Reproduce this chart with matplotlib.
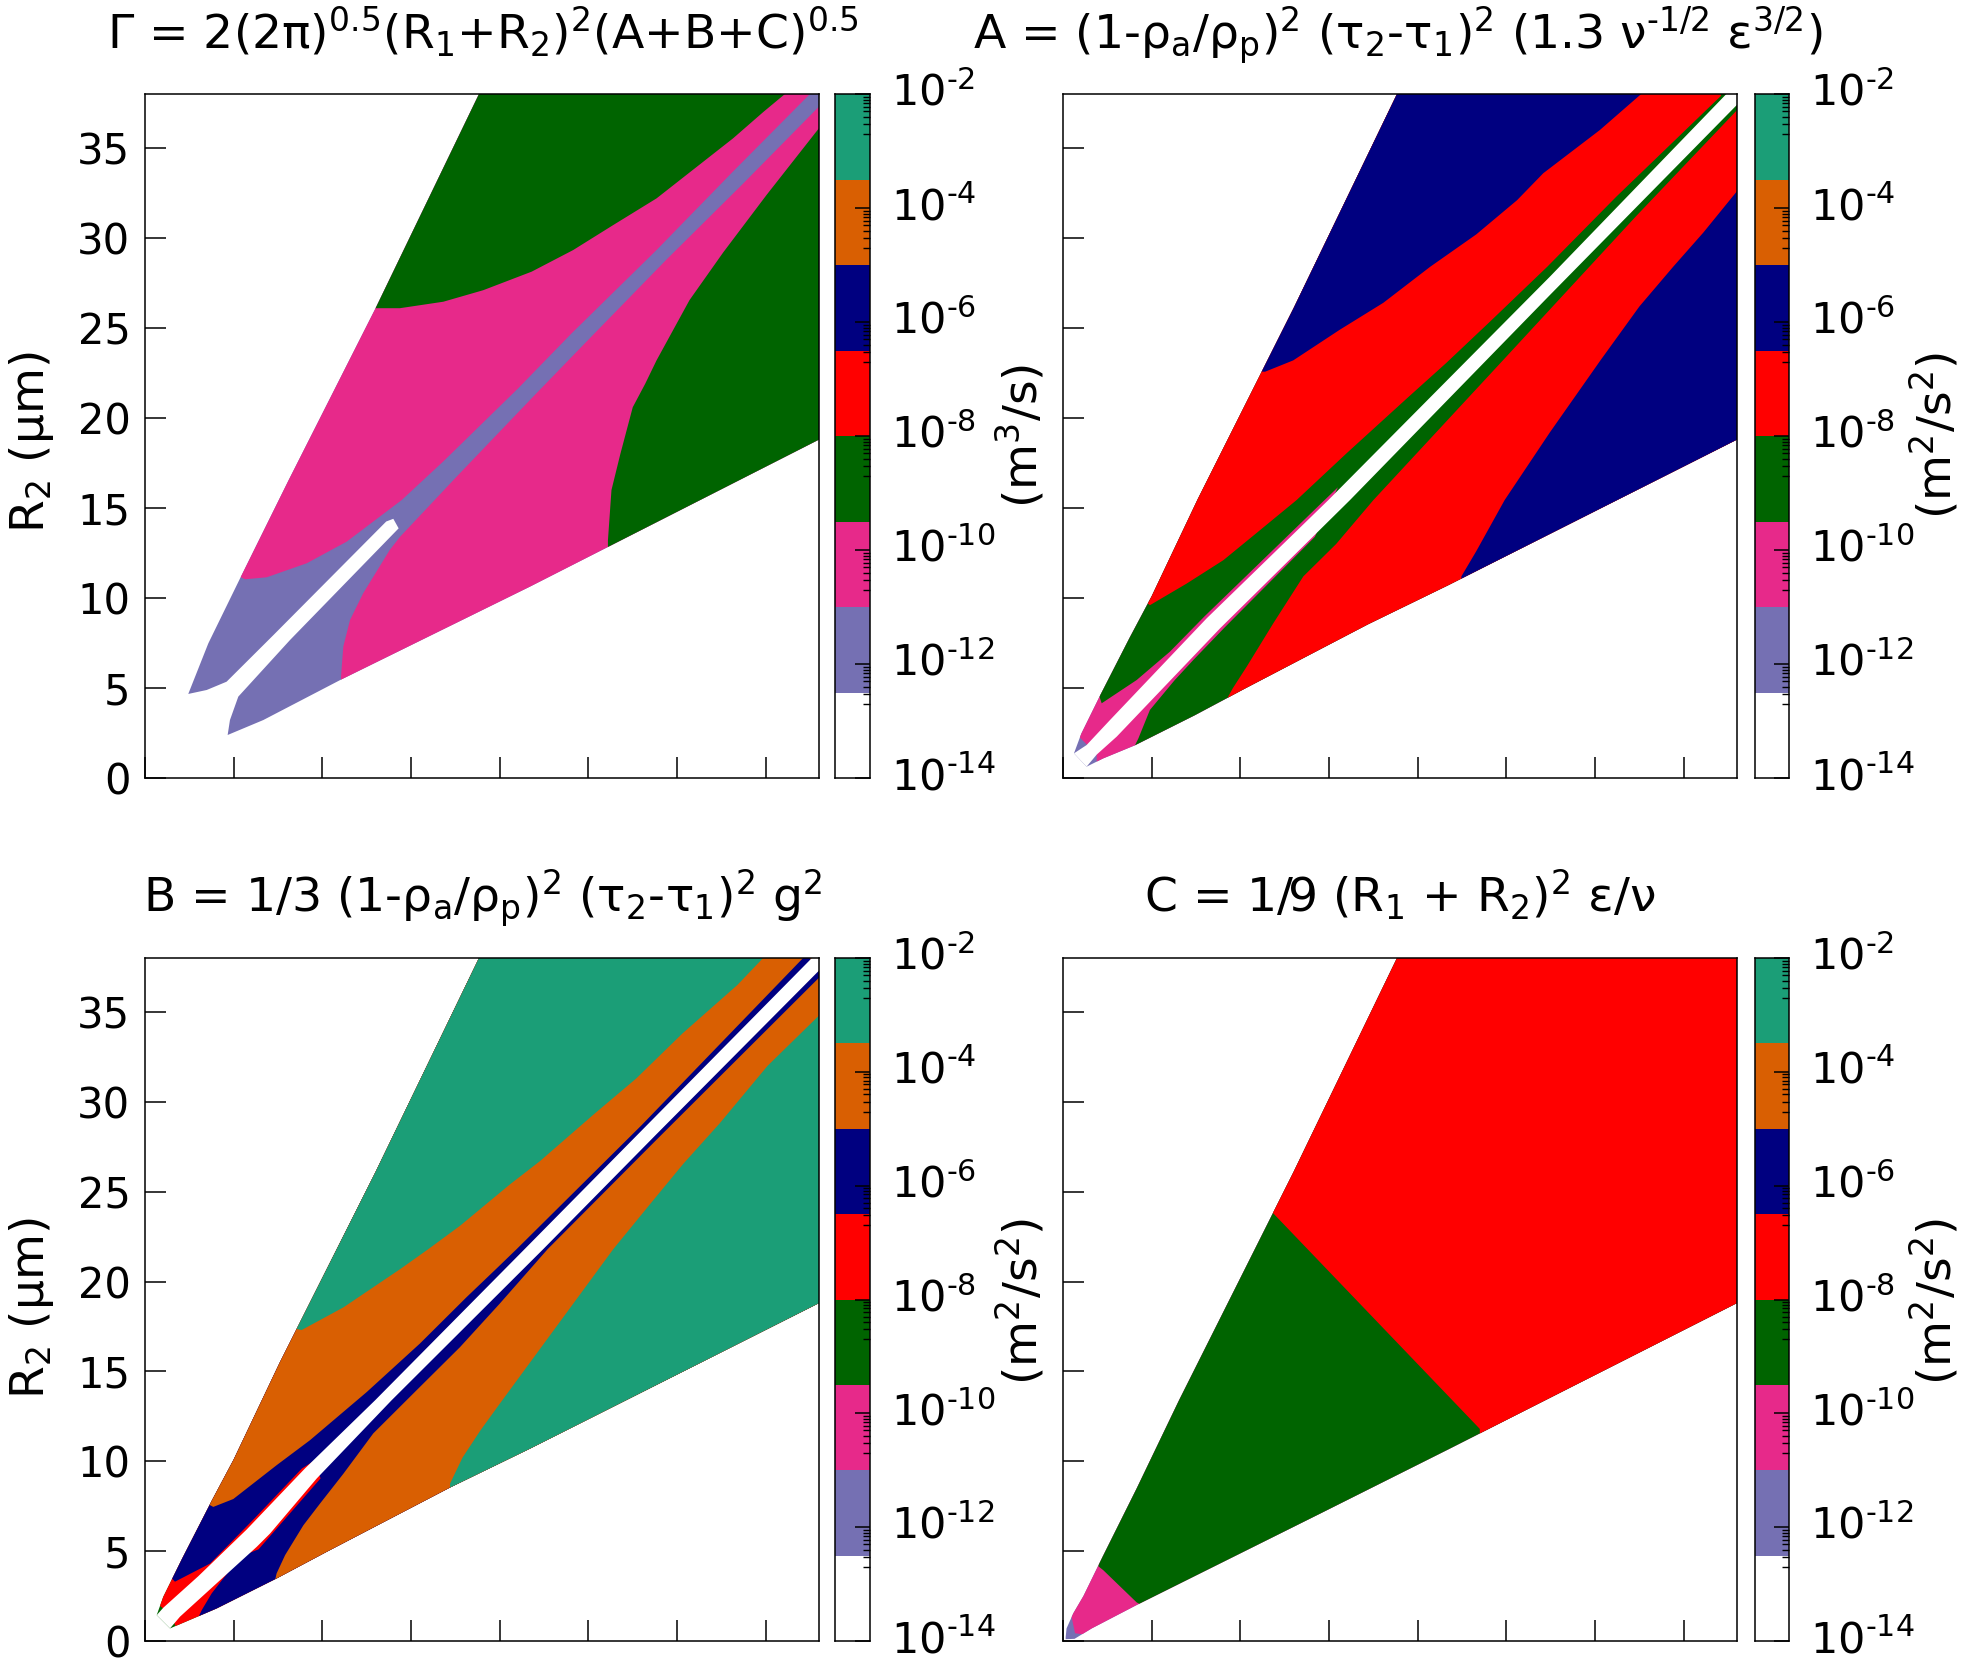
import matplotlib
matplotlib.use("Agg")
import matplotlib.pyplot as plt
from matplotlib.colors import ListedColormap
from matplotlib.patches import Polygon
from matplotlib.transforms import ScaledTranslation
import numpy as np

WHITE = "#ffffff"
LAVENDER = "#7570b3"
PINK = "#e7298a"
GREEN = "#006400"
RED = "#ff0000"
NAVY = "#000080"
ORANGE = "#d95f02"
TEAL = "#1b9e77"

band_colors = [WHITE, LAVENDER, PINK, GREEN, RED, NAVY, ORANGE, TEAL]
band_exponents = [-14, -12.5, -11, -9.5, -8, -6.5, -5, -3.5, -2]
major_exponents = [-14, -12, -10, -8, -6, -4, -2]
r2_ticks = [0, 5, 10, 15, 20, 25, 30, 35]
r1_ticks = [0, 5, 10, 15, 20, 25, 30, 35]

# outer edges of the filled wedge
upper_edge = [(1.03, 2.46), (2.1, 4.6), (3.76, 7.8), (5.0, 10.1), (7.6, 15.5), (13.0, 26.1), (18.83, 38)]
lower_edge = [(21.7, 10.7), (17.2, 8.54), (10.24, 4.96), (7.42, 3.48), (4.04, 1.81)]
far_corners = [(38, 38), (38, 18.8)]

# Gamma panel
gamma_wedge = [(2.44, 4.67), (3.57, 7.48), (5.36, 11.09), (8.1, 16.55), (13.0, 26.1), (18.83, 38)] + far_corners + [
    (21.7, 10.63), (11.0, 5.44), (6.67, 3.22), (4.66, 2.39), (4.79, 3.22), (5.26, 4.52), (8.18, 7.67),
    (14.3, 13.87), (14.0, 14.4), (13.6, 14.25), (7.24, 7.94), (4.6, 5.35), (3.48, 4.89)]
gamma_pink_up = [(5.3, 11.2), (5.64, 11.04), (6.86, 11.15), (9.12, 11.93), (11.37, 13.13), (14.47, 15.44),
                 (16.8, 17.57), (21.04, 21.65), (24.05, 24.7), (28.84, 29.33), (33.16, 33.7), (37.49, 38),
                 (37.49, 40), (0, 40), (0, 12)]
gamma_green_up = [(13, 26.1), (14.37, 26.1), (16.82, 26.46), (19.07, 27.1), (21.8, 28.13), (24.14, 29.33),
                  (26.4, 30.72), (28.84, 32.2), (31, 33.87), (33.16, 35.54), (34.86, 37), (36.08, 38),
                  (36.08, 40), (0, 40), (0, 26.1)]
gamma_pink_low = [(11.05, 5.63), (11.18, 7.3), (11.56, 8.78), (12.3, 10.26), (13.8, 12.67), (14.38, 13.4),
                  (17.57, 16.74), (21.9, 21.2), (24.8, 24.15), (29.4, 28.8), (33.7, 33), (38, 37.3),
                  (40, 37.3), (40, 0), (11.05, 0)]
gamma_green_low = [(26.1, 13.2), (26.3, 16), (26.8, 18), (27.5, 20.6), (28.2, 21.9), (28.84, 23.2), (30.7, 26.55),
                   (32.6, 29.2), (35.05, 32.4), (38, 36.1), (40, 36.1), (40, 0), (26.1, 0)]

# A panel
a_wedge = [(0.62, 1.37)] + upper_edge + far_corners + lower_edge + [(2.27, 1.09), (1.33, 0.63)]
a_pink = [(0.9, 2.3), (1.4, 1.8), (1.9, 1.4), (1.9, 0.9), (40, 0), (40, 40), (0, 40)]
a_green = [(1.9, 5.0), (2.18, 4.15), (4.15, 5.44), (6.03, 7.02), (8.0, 9.0), (14.6, 15.3), (15.5, 16.15),
           (14.2, 13.4), (9.1, 8.35), (7.35, 6.56), (6.3, 5.44), (4.9, 3.78), (4.25, 2.2), (4.0, 1.7),
           (40, 1.7), (40, 40), (0, 40)]
a_red_up = [(4.4, 10.0), (4.9, 9.6), (6.97, 10.8), (9.04, 12.1), (10.9, 13.6), (13.17, 15.44), (16, 18.05),
            (19.4, 21.1), (21.6, 23.05), (24.07, 25.35), (27.3, 28.4), (31.2, 32.3), (37.1, 37.9), (37.1, 40), (0, 40)]
a_red_low = [(9.3, 4.5), (9.57, 4.98), (10.36, 6.19), (11.86, 8.6), (13.55, 11.2), (15.4, 13), (17.5, 15.44),
             (24.8, 23.2), (32.3, 31.2), (38, 37.1), (40, 37), (40, 0), (9.3, 0)]
a_navy_up = [(11.39, 22.57), (12.98, 23.2), (15.6, 24.9), (18.06, 26.4), (20.7, 28.4), (23.3, 30.2), (25.6, 32.1),
             (27.08, 33.6), (30.27, 36), (32.6, 38), (32.6, 40), (0, 40), (0, 23)]
a_navy_low = [(22.46, 11.2), (23.3, 12.6), (24.9, 15.44), (27.45, 19.2), (30.3, 23.2), (32.5, 26.2), (34.4, 28.4),
              (36.1, 30.3), (38, 32.6), (40, 32.6), (40, 0), (22.46, 0)]
a_slit = [(0.62, 1.37), (1.33, 1.83), (2.65, 3.22), (8.1, 8.87), (14.96, 15.44), (27.45, 27.85), (37.4, 38), (38, 38),
          (38, 37.4), (27.45, 26.83), (16.18, 15.44), (8.85, 8.31), (3.03, 2.3), (1.9, 1.3), (1.33, 0.63)]

# B panel
b_wedge = [(0.66, 1.44)] + upper_edge + far_corners + lower_edge + [(1.41, 0.7)]
b_red = [(0.85, 1.95), (1.1, 1.75), (1.6, 1.2), (1.7, 0.85), (40, 0), (40, 40), (0, 40)]
b_navy = [(1.4, 3.6), (1.69, 3.3), (3.67, 4.31), (4.79, 5.43), (6.2, 6.85), (8.85, 9.6), (9.5, 10.0),
          (9.9, 9.05), (6.4, 5.1), (5.36, 4.69), (3.76, 2.65), (3.2, 1.72), (3.0, 1.3), (40, 1.3), (40, 40), (0, 40)]
b_orange = [(3.4, 7.7), (3.85, 7.46), (4.98, 7.9), (7.42, 9.78), (9.3, 11.17), (12.5, 13.85), (15.5, 16.55),
            (18.13, 19.13), (19.9, 20.8), (20.95, 21.8), (28, 28.7), (37.3, 38.2), (38.2, 37.1), (28.75, 27.8),
            (22.7, 21.8), (20, 18.77), (17.76, 16.35), (15.3, 13.94), (12.87, 11.55), (11.18, 9.3), (9.87, 7.65),
            (8.93, 6.44), (7.9, 4.78), (7.42, 3.76), (7.2, 2.8), (40, 2.8), (40, 40), (0, 40)]
b_teal_up = [(8.4, 17.4), (8.83, 17.3), (11.2, 18.57), (14.4, 20.7), (15.97, 21.8), (17.76, 23.1), (20.57, 25.4),
             (22.27, 26.7), (25.3, 29.3), (27.7, 31.3), (30.3, 33.8), (33.4, 36.5), (34.85, 38), (34.85, 40), (0, 40)]
b_teal_low = [(17.2, 8.76), (17.9, 10.2), (18.9, 11.7), (20, 13.2), (26.4, 21.8), (28.47, 24.3), (30.35, 26.55),
              (32.4, 28.8), (35.1, 32), (38, 34.8), (40, 34.8), (40, 0), (17.2, 0)]
b_slit = [(0.66, 1.44), (1.03, 1.85), (3.0, 3.6), (5.73, 6.2), (9.02, 9.6), (12.97, 13.39), (21.4, 21.8), (28.3, 28.7),
          (37.6, 38), (38, 38), (38, 37.3), (28.84, 28.2), (22.45, 21.8), (13.9, 13.39), (9.68, 9.04), (7.05, 5.98),
          (6.3, 5.24), (1.97, 1.35), (1.41, 0.7)]

# C panel
c_wedge = [(0.15, 0.2), (0.2, 0.7), (0.58, 1.54), (1.15, 2.5), (2.24, 4.7), (4.15, 8.48), (6.54, 13.39),
           (13, 26.1), (18.83, 38)] + far_corners + [(21.8, 10.7), (14.5, 7.09), (8.48, 4.13), (4.15, 2.0),
                                                     (1.62, 0.7), (0.65, 0.12), (0.15, 0.1)]
c_pink = [(0.35, 1.6), (0.5, 1.26), (0.68, 0.43), (1.7, 0.3), (40, 0), (40, 40), (0, 40)]
c_green = [(2.0, 4.15), (2.27, 3.94), (4.15, 2.15), (4.6, 1.9), (40, 0), (40, 40), (0, 40)]
c_red = [(11.8, 23.85), (23.5, 11.8), (23.5, 0), (40, 0), (40, 40), (0, 40), (0, 24)]

title_g = r"$\Gamma$ = 2(2π)$^{0.5}$(R$_1$+R$_2$)$^2$(A+B+C)$^{0.5}$"
title_a = "A = (1-ρ$_a$/ρ$_p$)$^2$ (τ$_2$-τ$_1$)$^2$ (1.3 ν$^{\u20101/2}$ ε$^{3/2}$)"
title_b = r"B = 1/3 (1-ρ$_a$/ρ$_p$)$^2$ (τ$_2$-τ$_1$)$^2$ g$^2$"
title_c = r"C = 1/9 (R$_1$ + R$_2$)$^2$ ε/ν"

W, H = 1964, 1661
plt.rcParams["font.family"] = "DejaVu Sans"
plt.rcParams["mathtext.fontset"] = "dejavusans"
plt.rcParams["mathtext.default"] = "regular"
FS_TICK = 30
FS_CB = 31
FS_LABEL = 34
FS_TITLE = 34


def px_axes(fig, x0, y0, x1, y1):
    return fig.add_axes([x0 / W, 1 - y1 / H, (x1 - x0) / W, (y1 - y0) / H])


def wedge_panel(ax, wedge, layers, slit=None, show_labels=False):
    ax.set_xlim(0, 38)
    ax.set_ylim(0, 38)
    ax.fill(*zip(*wedge), color=layers[0][0], lw=0)
    clip = Polygon(wedge, transform=ax.transData)
    for color, pts in layers[1:]:
        poly = ax.fill(*zip(*pts), color=color, lw=0)[0]
        poly.set_clip_path(clip)
    if slit is not None:
        ax.fill(*zip(*slit), color=WHITE, lw=0)
    ax.set_xticks(r1_ticks)
    ax.set_yticks(r2_ticks)
    ax.set_xticklabels([])
    ax.tick_params(direction="in", length=15, width=1.1, labelsize=FS_TICK, pad=10.5, labelleft=show_labels)
    for s in ax.spines.values():
        s.set_linewidth(1.1)


def colorbar(cax):
    edges = 10.0 ** np.array(band_exponents)
    cmap = ListedColormap(band_colors)
    cax.pcolormesh([0, 1], edges, np.arange(8).reshape(-1, 1), cmap=cmap, shading="flat")
    cax.set_yscale("log")
    cax.set_ylim(1e-14, 1e-2)
    cax.set_xticks([])
    cax.yaxis.tick_right()
    major = [10.0 ** e for e in major_exponents]
    cax.set_yticks(major)
    # plain hyphen look in the exponent, not the wide math minus
    cax.set_yticklabels(["10$^{\u2010%d}$" % abs(e) for e in major_exponents])
    minor = [m * 10.0 ** (e - 1) for e in major_exponents[1:] for m in range(2, 10)]
    cax.set_yticks(minor, minor=True)
    cax.set_yticklabels([], minor=True)
    cax.tick_params(axis="y", which="major", direction="in", length=10.8, width=1.1, labelsize=FS_CB, pad=15)
    cax.tick_params(axis="y", which="minor", direction="in", length=5, width=1.0)
    # labels sit a little above their ticks
    up = ScaledTranslation(0, 5 / 100, cax.figure.dpi_scale_trans)
    for lab in cax.get_yticklabels():
        lab.set_transform(lab.get_transform() + up)
    for s in cax.spines.values():
        s.set_linewidth(1.1)


def main():
    fig = plt.figure(figsize=(W / 100, H / 100), dpi=100)
    cols = [(145, 819, 835, 870), (1063, 1737, 1755, 1789)]
    rows = [(94, 778), (958, 1641)]

    ax = px_axes(fig, cols[0][0], rows[0][0], cols[0][1], rows[0][1])
    wedge_panel(ax, gamma_wedge, [(LAVENDER, None), (PINK, gamma_pink_up), (PINK, gamma_pink_low),
                                  (GREEN, gamma_green_up), (GREEN, gamma_green_low)], show_labels=True)
    ax = px_axes(fig, cols[1][0], rows[0][0], cols[1][1], rows[0][1])
    wedge_panel(ax, a_wedge, [(LAVENDER, None), (PINK, a_pink), (GREEN, a_green), (RED, a_red_up), (RED, a_red_low),
                              (NAVY, a_navy_up), (NAVY, a_navy_low)], slit=a_slit)
    ax = px_axes(fig, cols[0][0], rows[1][0], cols[0][1], rows[1][1])
    wedge_panel(ax, b_wedge, [(GREEN, None), (RED, b_red), (NAVY, b_navy), (ORANGE, b_orange), (TEAL, b_teal_up),
                              (TEAL, b_teal_low)], slit=b_slit, show_labels=True)
    ax = px_axes(fig, cols[1][0], rows[1][0], cols[1][1], rows[1][1])
    wedge_panel(ax, c_wedge, [(LAVENDER, None), (PINK, c_pink), (GREEN, c_green), (RED, c_red)])

    for c in cols:
        for r in rows:
            colorbar(px_axes(fig, c[2], r[0], c[3], r[1]))

    # titles and side labels placed in pixels
    def label(x, y, s, fs=FS_LABEL, **kw):
        fig.text(x / W, 1 - y / H, s, fontsize=fs, ha="center", **kw)

    label(483, 49, title_g, fs=FS_TITLE, va="baseline")
    label(1398, 49, title_a, fs=FS_TITLE, va="baseline")
    label(483, 912, title_b, fs=FS_TITLE, va="baseline")
    label(1400, 912, title_c, fs=FS_TITLE, va="baseline")
    for y in (442, 1308):
        label(32, y, "R$_2$ (μm)", va="center", rotation=90)
    label(1021, 436, "(m$^3$/s)", va="center", rotation=90)
    label(1021, 1302, "(m$^2$/s$^2$)", va="center", rotation=90)
    label(1935, 436, "(m$^2$/s$^2$)", va="center", rotation=90)
    label(1935, 1302, "(m$^2$/s$^2$)", va="center", rotation=90)

    fig.savefig("out.png", dpi=100)


if __name__ == "__main__":
    main()
